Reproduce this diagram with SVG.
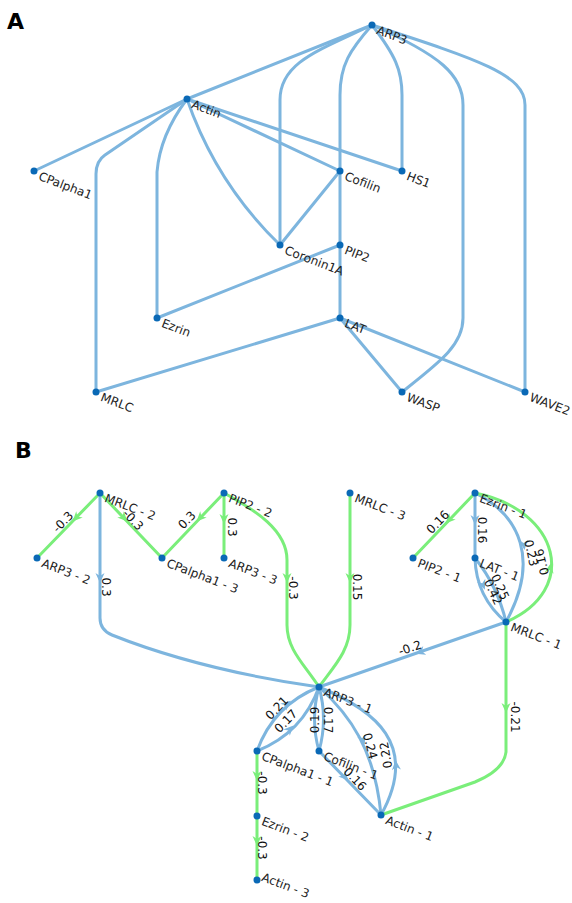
<svg xmlns="http://www.w3.org/2000/svg" xmlns:xlink="http://www.w3.org/1999/xlink" width="572" height="903" viewBox="0 0 572 903">
<style>
.e{fill:none;stroke:#7db5de;stroke-width:3;stroke-linecap:round}
.g{fill:none;stroke:#7aee7a;stroke-width:3;stroke-linecap:round}
.ab{fill:#7db5de}
.ag{fill:#7aee7a}
.n{fill:#0a69b6}
.t{font-family:"DejaVu Sans",Verdana,sans-serif;font-size:12px;fill:#222}
.l{font-family:"DejaVu Sans",Verdana,sans-serif;font-size:12px;fill:#111;text-anchor:middle}
.h{font-family:"DejaVu Sans",Verdana,sans-serif;font-size:22px;font-weight:bold;fill:#000}
</style>
<defs>
<path id="ah" d="M5,0 L-5,-4.5 L-2,0 L-5,4.5 Z"/>
</defs>
<rect width="572" height="903" fill="#fff"/>
<text class="h" x="7" y="29">A</text>
<text class="h" x="15" y="458">B</text>

<g id="connectors-A">
<path class="e" d="M372,25 L187,99"/>
<path class="e" d="M187,99 L34,171"/>
<path class="e" d="M187,99 L340,171"/>
<path class="e" d="M187,99 L402,171"/>
<path class="e" d="M187,99 L105,155 Q96,161 96,174 L96,392"/>
<path class="e" d="M187,99 Q160,135 157,172 L157,318"/>
<path class="e" d="M187,99 Q216,183 280,245"/>
<path class="e" d="M372,25 C320,50 280,62 280,100 L280,245"/>
<path class="e" d="M372,25 C350,50 340,65 340,95 L340,318"/>
<path class="e" d="M372,25 C395,55 402,70 402,95 L402,171"/>
<path class="e" d="M372,25 C440,55 463,75 463,105 L463,318 C463,345 440,362 402,392"/>
<path class="e" d="M372,25 C480,60 525,75 525,105 L525,392"/>
<path class="e" d="M340,171 L280,245"/>
<path class="e" d="M340,245 L157,318"/>
<path class="e" d="M340,318 L96,392"/>
<path class="e" d="M340,318 L402,392"/>
<path class="e" d="M340,318 L525,392"/>
</g>

<g id="node-ARP3"><circle class="n" cx="372" cy="25" r="3.5"/><text class="t" transform="translate(379,25) rotate(21)" y="9">ARP3</text></g>
<g id="node-Actin"><circle class="n" cx="187" cy="99" r="3.5"/><text class="t" transform="translate(194,99) rotate(21)" y="9">Actin</text></g>
<g id="node-CPalpha1"><circle class="n" cx="34" cy="171" r="3.5"/><text class="t" transform="translate(41,171) rotate(21)" y="9">CPalpha1</text></g>
<g id="node-Cofilin"><circle class="n" cx="340" cy="171" r="3.5"/><text class="t" transform="translate(347,171) rotate(21)" y="9">Cofilin</text></g>
<g id="node-HS1"><circle class="n" cx="402" cy="171" r="3.5"/><text class="t" transform="translate(409,171) rotate(21)" y="9">HS1</text></g>
<g id="node-Coronin1A"><circle class="n" cx="280" cy="245" r="3.5"/><text class="t" transform="translate(287,245) rotate(21)" y="9">Coronin1A</text></g>
<g id="node-PIP2"><circle class="n" cx="340" cy="245" r="3.5"/><text class="t" transform="translate(347,245) rotate(21)" y="9">PIP2</text></g>
<g id="node-Ezrin"><circle class="n" cx="157" cy="318" r="3.5"/><text class="t" transform="translate(164,318) rotate(21)" y="9">Ezrin</text></g>
<g id="node-LAT"><circle class="n" cx="340" cy="318" r="3.5"/><text class="t" transform="translate(347,318) rotate(21)" y="9">LAT</text></g>
<g id="node-MRLC"><circle class="n" cx="96" cy="392" r="3.5"/><text class="t" transform="translate(103,392) rotate(21)" y="9">MRLC</text></g>
<g id="node-WASP"><circle class="n" cx="402" cy="392" r="3.5"/><text class="t" transform="translate(409,392) rotate(21)" y="9">WASP</text></g>
<g id="node-WAVE2"><circle class="n" cx="525" cy="392" r="3.5"/><text class="t" transform="translate(532,392) rotate(21)" y="9">WAVE2</text></g>

<g id="connectors-B">
<path class="g" d="M100,493 L37,558"/>
<path class="g" d="M100,493 L162,558"/>
<path class="g" d="M224,493 L162,558"/>
<path class="g" d="M224,493 L224,558"/>
<path class="e" d="M100,493 L100,618 Q100,630 112,635 Q200,670 319,687"/>
<path class="g" d="M224,493 C255,510 287,530 287,560 L287,625 C287,650 305,665 319,687"/>
<path class="g" d="M350,493 L350,625 C350,650 335,665 319,687"/>
<path class="g" d="M475,493 L413,558"/>
<path class="e" d="M475,493 L475,558"/>
<path class="e" d="M475,493 C520,515 540,560 506,622"/>
<path class="g" d="M475,493 C560,510 580,590 506,622"/>
<path class="e" d="M475,558 Q476,597 506,622"/>
<path class="e" d="M475,558 Q497.7,586.5 506,622"/>
<path class="e" d="M506,622 L319,687"/>
<path class="g" d="M506,622 L506,752 Q504,770 475,782 L381,815"/>
<path class="e" d="M257,751 Q273.6,705 319,687"/>
<path class="e" d="M257,751 Q302.4,733 319,687"/>
<path class="e" d="M319,687 Q310,719 319,751"/>
<path class="e" d="M319,687 Q328,719 319,751"/>
<path class="e" d="M319,687 C350,715 375,750 381,815"/>
<path class="e" d="M319,687 C375,710 420,745 381,815"/>
<path class="e" d="M319,751 L381,815"/>
<path class="g" d="M257,751 L257,816"/>
<path class="g" d="M257,816 L257,880"/>
<use xlink:href="#ah" class="ag" transform="translate(76,518) rotate(134)"/>
<use xlink:href="#ah" class="ag" transform="translate(124,518) rotate(46)"/>
<use xlink:href="#ah" class="ag" transform="translate(200,518) rotate(134)"/>
<use xlink:href="#ah" class="ag" transform="translate(224,519) rotate(90)"/>
<use xlink:href="#ah" class="ab" transform="translate(100,578) rotate(90)"/>
<use xlink:href="#ah" class="ag" transform="translate(287,578) rotate(90)"/>
<use xlink:href="#ah" class="ag" transform="translate(350,578) rotate(90)"/>
<use xlink:href="#ah" class="ag" transform="translate(449,520) rotate(134)"/>
<use xlink:href="#ah" class="ab" transform="translate(475,520) rotate(90)"/>
<use xlink:href="#ah" class="ab" transform="translate(524,545) rotate(85)"/>
<use xlink:href="#ah" class="ag" transform="translate(550,568) rotate(-80)"/>
<use xlink:href="#ah" class="ab" transform="translate(483,585) rotate(68)"/>
<use xlink:href="#ah" class="ab" transform="translate(420,652) rotate(161)"/>
<use xlink:href="#ah" class="ag" transform="translate(506,708) rotate(90)"/>
<use xlink:href="#ah" class="ab" transform="translate(287,704) rotate(-40)"/>
<use xlink:href="#ah" class="ab" transform="translate(290,729) rotate(-46)"/>
<use xlink:href="#ah" class="ab" transform="translate(345,777) rotate(46)"/>
<use xlink:href="#ah" class="ab" transform="translate(363,740) rotate(70)"/>
<use xlink:href="#ah" class="ab" transform="translate(396,765) rotate(-95)"/>
<use xlink:href="#ah" class="ag" transform="translate(257,776) rotate(90)"/>
<use xlink:href="#ah" class="ag" transform="translate(257,841) rotate(90)"/>
<text class="l" transform="translate(63,522) rotate(-46)" dy="4">-0.3</text>
<text class="l" transform="translate(133,520) rotate(46)" dy="4">-0.3</text>
<text class="l" transform="translate(187,520) rotate(-46)" dy="4">0.3</text>
<text class="l" transform="translate(232,527) rotate(90)" dy="4">0.3</text>
<text class="l" transform="translate(106,587) rotate(90)" dy="4">0.3</text>
<text class="l" transform="translate(293,588) rotate(90)" dy="4">-0.3</text>
<text class="l" transform="translate(357,587) rotate(90)" dy="4">0.15</text>
<text class="l" transform="translate(438,522) rotate(-46)" dy="4">0.16</text>
<text class="l" transform="translate(482,530) rotate(90)" dy="4">0.16</text>
<text class="l" transform="translate(531,553) rotate(78)" dy="4">0.23</text>
<text class="l" transform="translate(542,562) rotate(-103)" dy="4">0.16</text>
<text class="l" transform="translate(500,587) rotate(65)" dy="4">0.25</text>
<text class="l" transform="translate(493,592) rotate(65)" dy="4">0.42</text>
<text class="l" transform="translate(410,648) rotate(-19)" dy="4">-0.2</text>
<text class="l" transform="translate(515,717) rotate(90)" dy="4">-0.21</text>
<text class="l" transform="translate(277,708) rotate(-46)" dy="4">0.21</text>
<text class="l" transform="translate(286,721) rotate(-46)" dy="4">0.17</text>
<text class="l" transform="translate(315,720) rotate(-90)" dy="4">0.19</text>
<text class="l" transform="translate(328,720) rotate(90)" dy="4">0.17</text>
<text class="l" transform="translate(370,746) rotate(75)" dy="4">0.24</text>
<text class="l" transform="translate(386,755) rotate(-100)" dy="4">0.22</text>
<text class="l" transform="translate(355,779) rotate(46)" dy="4">0.16</text>
<text class="l" transform="translate(262,783) rotate(90)" dy="4">-0.3</text>
<text class="l" transform="translate(262,848) rotate(90)" dy="4">-0.3</text>
</g>

<g id="node-MRLC-2"><circle class="n" cx="100" cy="493" r="3.5"/><text class="t" transform="translate(107,493) rotate(21)" y="9">MRLC - 2</text></g>
<g id="node-ARP3-2"><circle class="n" cx="37" cy="558" r="3.5"/><text class="t" transform="translate(44,558) rotate(21)" y="9">ARP3 - 2</text></g>
<g id="node-CPalpha1-3"><circle class="n" cx="162" cy="558" r="3.5"/><text class="t" transform="translate(169,558) rotate(21)" y="9">CPalpha1 - 3</text></g>
<g id="node-PIP2-2"><circle class="n" cx="224" cy="493" r="3.5"/><text class="t" transform="translate(231,493) rotate(21)" y="9">PIP2 - 2</text></g>
<g id="node-ARP3-3"><circle class="n" cx="224" cy="558" r="3.5"/><text class="t" transform="translate(231,558) rotate(21)" y="9">ARP3 - 3</text></g>
<g id="node-MRLC-3"><circle class="n" cx="350" cy="493" r="3.5"/><text class="t" transform="translate(357,493) rotate(21)" y="9">MRLC - 3</text></g>
<g id="node-Ezrin-1"><circle class="n" cx="475" cy="493" r="3.5"/><text class="t" transform="translate(482,493) rotate(21)" y="9">Ezrin - 1</text></g>
<g id="node-PIP2-1"><circle class="n" cx="413" cy="558" r="3.5"/><text class="t" transform="translate(420,558) rotate(21)" y="9">PIP2 - 1</text></g>
<g id="node-LAT-1"><circle class="n" cx="475" cy="558" r="3.5"/><text class="t" transform="translate(482,558) rotate(21)" y="9">LAT - 1</text></g>
<g id="node-MRLC-1"><circle class="n" cx="506" cy="622" r="3.5"/><text class="t" transform="translate(513,622) rotate(21)" y="9">MRLC - 1</text></g>
<g id="node-ARP3-1"><circle class="n" cx="319" cy="687" r="3.5"/><text class="t" transform="translate(326,687) rotate(21)" y="9">ARP3 - 1</text></g>
<g id="node-CPalpha1-1"><circle class="n" cx="257" cy="751" r="3.5"/><text class="t" transform="translate(264,751) rotate(21)" y="9">CPalpha1 - 1</text></g>
<g id="node-Cofilin-1"><circle class="n" cx="319" cy="751" r="3.5"/><text class="t" transform="translate(326,751) rotate(21)" y="9">Cofilin - 1</text></g>
<g id="node-Actin-1"><circle class="n" cx="381" cy="815" r="3.5"/><text class="t" transform="translate(388,815) rotate(21)" y="9">Actin - 1</text></g>
<g id="node-Ezrin-2"><circle class="n" cx="257" cy="816" r="3.5"/><text class="t" transform="translate(264,816) rotate(21)" y="9">Ezrin - 2</text></g>
<g id="node-Actin-3"><circle class="n" cx="257" cy="880" r="3.5"/><text class="t" transform="translate(264,872) rotate(21)" y="9">Actin - 3</text></g>
</svg>
